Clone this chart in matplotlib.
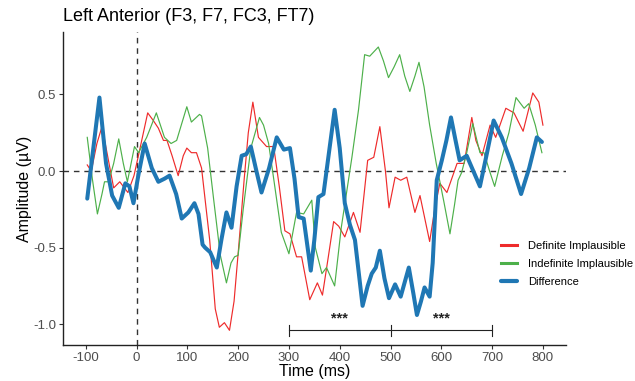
import matplotlib
matplotlib.use("Agg")
import matplotlib.pyplot as plt

# ERP waveforms (time in ms, amplitude in microvolts)
diff_t = [-97, -85, -73, -60, -48, -35, -22, -14, -6, 4, 16, 30, 43, 55, 65, 78, 89,
          102, 114, 122, 130, 135, 145, 158, 167, 177, 187, 197, 207, 216, 225, 236,
          246, 261, 276, 290, 302, 311, 319, 329, 343, 350, 358, 368, 380, 390, 400,
          410, 420, 430, 445, 455, 463, 471, 479, 488, 497, 509, 520, 536, 545, 552,
          560, 567, 577, 583, 591, 601, 610, 619, 628, 636, 650, 663, 676, 690, 703,
          719, 738, 757, 773, 788, 798]
diff_v = [-0.18, 0.15, 0.48, 0.05, -0.16, -0.24, -0.08, -0.10, -0.21, -0.02, 0.18,
          0.02, -0.07, -0.05, -0.03, -0.15, -0.31, -0.27, -0.21, -0.28, -0.48, -0.50,
          -0.53, -0.63, -0.45, -0.27, -0.37, -0.10, 0.10, 0.11, 0.16, 0.0, -0.14,
          0.02, 0.22, 0.14, 0.15, -0.05, -0.30, -0.31, -0.65, -0.45, -0.17, -0.15,
          0.15, 0.40, 0.15, -0.21, -0.35, -0.45, -0.88, -0.75, -0.67, -0.63, -0.52,
          -0.70, -0.83, -0.74, -0.82, -0.63, -0.80, -0.94, -0.85, -0.76, -0.82,
          -0.60, -0.06, 0.07, 0.20, 0.35, 0.20, 0.07, 0.10, 0.0, -0.10, 0.12, 0.33,
          0.22, 0.05, -0.15, 0.02, 0.22, 0.19]

def_t = [-97, -89, -78, -68, -57, -45, -33, -17, -5, 5, 22, 33, 43, 53, 60, 70, 82,
         92, 99, 108, 118, 128, 144, 155, 163, 173, 183, 192, 201, 212, 220, 229, 240,
         256, 270, 281, 292, 302, 315, 325, 341, 356, 366, 378, 388, 398, 410, 427,
         440, 448, 455, 467, 479, 490, 497, 509, 520, 532, 548, 558, 570, 577, 587,
         597, 611, 631, 645, 660, 668, 680, 696, 707, 727, 743, 761, 780, 792, 800]
def_v = [0.04, 0.0, 0.18, 0.29, 0.10, -0.11, -0.07, -0.14, -0.03, 0.12, 0.38, 0.33,
         0.28, 0.20, 0.20, 0.10, -0.03, 0.10, 0.15, 0.12, 0.12, 0.02, -0.45, -0.90,
         -1.02, -0.99, -1.04, -0.85, -0.50, -0.05, 0.25, 0.45, 0.22, 0.16, 0.16,
         -0.10, -0.39, -0.41, -0.56, -0.56, -0.84, -0.73, -0.81, -0.55, -0.33, -0.36,
         -0.43, -0.27, -0.40, -0.15, 0.07, 0.09, 0.29, 0.0, -0.24, -0.04, -0.06,
         -0.04, -0.27, -0.16, -0.35, -0.46, -0.25, -0.08, -0.14, 0.05, 0.05, 0.35,
         0.20, 0.10, 0.30, 0.22, 0.41, 0.38, 0.26, 0.51, 0.45, 0.30]

indef_t = [-97, -87, -77, -68, -63, -55, -45, -35, -26, -18, -4, 4, 20, 39, 55, 68,
           79, 99, 108, 124, 128, 140, 152, 165, 177, 186, 193, 200, 210, 225, 242,
           250, 260, 270, 285, 300, 315, 329, 345, 352, 365, 374, 390, 403, 424, 437,
           449, 459, 476, 486, 496, 507, 518, 528, 538, 548, 556, 566, 577, 590, 605,
           617, 626, 633, 640, 650, 662, 676, 684, 695, 705, 720, 733, 747, 763, 772,
           785, 798]
indef_v = [0.22, -0.05, -0.28, -0.15, -0.07, -0.07, 0.05, 0.21, 0.05, -0.07, 0.16,
           0.12, 0.22, 0.38, 0.22, 0.18, 0.20, 0.42, 0.32, 0.37, 0.36, 0.15, -0.19,
           -0.55, -0.73, -0.60, -0.56, -0.55, -0.25, 0.15, 0.35, 0.30, 0.18, -0.05,
           -0.40, -0.54, -0.27, -0.28, -0.19, -0.50, -0.67, -0.63, -0.75, -0.37,
           0.09, 0.40, 0.76, 0.75, 0.81, 0.72, 0.61, 0.68, 0.76, 0.62, 0.52, 0.62,
           0.71, 0.55, 0.30, 0.05, -0.20, -0.41, -0.22, -0.06, -0.01, 0.12, 0.31,
           0.12, 0.12, 0.0, -0.10, 0.10, 0.25, 0.48, 0.41, 0.44, 0.30, 0.12]

# significance brackets
sig_edges = [300, 500, 700]
sig_stars = ["***", "***"]

x_ticks = [-100, 0, 100, 200, 300, 400, 500, 600, 700, 800]
y_ticks = [-1.0, -0.5, 0.0, 0.5]

plt.rcParams["font.family"] = ["Liberation Sans", "DejaVu Sans"]

fig = plt.figure(figsize=(6.35, 3.81), dpi=100)
ax = fig.add_axes([0.099, 0.094, 0.792, 0.822])

ax.axhline(0, color="#333333", lw=1.0, ls=(0, (4, 3.5)), zorder=1)
ax.axvline(0, color="#333333", lw=1.0, ls=(0, (4, 3.5)), zorder=1)

ax.plot(def_t, def_v, color="#EE2B2B", lw=0.85, label="Definite Implausible",
        solid_joinstyle="round", zorder=2)
ax.plot(indef_t, indef_v, color="#4DB04A", lw=0.85, label="Indefinite Implausible",
        solid_joinstyle="round", zorder=2)
ax.plot(diff_t, diff_v, color="#1F77B4", lw=2.9, label="Difference",
        solid_joinstyle="round", solid_capstyle="round", zorder=3)

# bracket with stars
y_br = -1.04
ax.plot([sig_edges[0], sig_edges[-1]], [y_br, y_br], color="#222222", lw=0.8)
for e in sig_edges:
    ax.plot([e, e], [y_br - 0.038, y_br + 0.038], color="#222222", lw=0.8)
for (a, b), s in zip(zip(sig_edges[:-1], sig_edges[1:]), sig_stars):
    ax.text((a + b) / 2, y_br + 0.03, s, ha="center", va="bottom",
            fontsize=10.5, fontweight="bold", color="#222222")

ax.set_xlim(-145, 845)
ax.set_ylim(-1.137, 0.908)
ax.set_xticks(x_ticks)
ax.set_yticks(y_ticks)
ax.set_xticklabels([str(v) for v in x_ticks])
ax.set_yticklabels([f"{v:.1f}" for v in y_ticks])
ax.tick_params(labelsize=9.5, labelcolor="#4D4D4D", color="#333333",
               length=3, width=0.8, pad=2)

for side in ["top", "right"]:
    ax.spines[side].set_visible(False)
for side in ["left", "bottom"]:
    ax.spines[side].set_color("#222222")
    ax.spines[side].set_linewidth(1.0)

ax.set_xlabel("Time (ms)", fontsize=11.5, labelpad=0)
ax.set_ylabel("Amplitude (\u00b5V)", fontsize=11.5, labelpad=1)
ax.set_title("Left Anterior (F3, F7, FC3, FT7)", fontsize=13, loc="left", pad=8)

leg = ax.legend(loc="center left", bbox_to_anchor=(0.852, 0.26), frameon=False,
                fontsize=8, handlelength=1.4, labelspacing=0.7, handletextpad=1.0)
for h, w in zip(leg.get_lines(), [2.2, 2.2, 3.0]):
    h.set_linewidth(w)

fig.savefig("out.png", dpi=100)
